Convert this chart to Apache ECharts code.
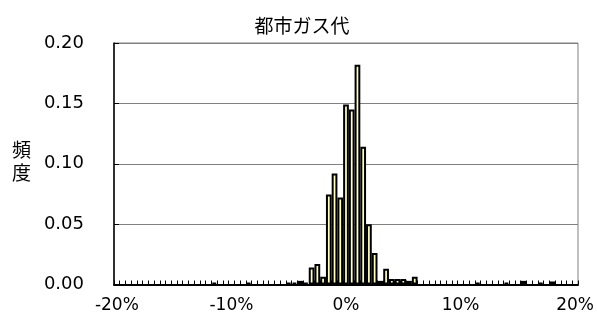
<!DOCTYPE html>
<html>
<head>
<meta charset="utf-8">
<script src="https://cdn.jsdelivr.net/npm/echarts@6/dist/echarts.min.js"></script>
<style>html,body{margin:0;padding:0;background:#fff;}#c{width:597px;height:325px;}</style>
</head>
<body>
<div id="c"></div>
<script>
const titleText = '都市ガス代';
const yAxisName = '頻度';
// bin values (%), step 0.5 from -20 to 20
const bins = [-20,-19.5,-19,-18.5,-18,-17.5,-17,-16.5,-16,-15.5,-15,-14.5,-14,-13.5,-13,-12.5,-12,-11.5,-11,-10.5,
  -10,-9.5,-9,-8.5,-8,-7.5,-7,-6.5,-6,-5.5,-5,-4.5,-4,-3.5,-3,-2.5,-2,-1.5,-1,-0.5,
  0,0.5,1,1.5,2,2.5,3,3.5,4,4.5,5,5.5,6,6.5,7,7.5,8,8.5,9,9.5,
  10,10.5,11,11.5,12,12.5,13,13.5,14,14.5,15,15.5,16,16.5,17,17.5,18,18.5,19,19.5,20];
const freq = [0,0,0,0,0,0,0,0,0,0,0,0,0,0,0,0,0,0.0015,0,0,
  0,0,0,0.0015,0,0,0,0,0,0,0.0015,0.0015,0.003,0.0015,0.014,0.017,0.0065,0.0745,0.092,0.072,
  0.149,0.145,0.182,0.114,0.050,0.026,0.003,0.013,0.0045,0.0045,0.0045,0.003,0.0065,0,0,0,0,0,0,0,
  0,0,0,0.0015,0,0,0,0,0.0015,0,0,0.003,0,0,0.0015,0,0.0025,0,0,0,0];
const yTicks = [0, 0.05, 0.10, 0.15, 0.20];

const chart = echarts.init(document.getElementById('c'), null, {renderer:'canvas'});
chart.setOption({
  animation: false,
  backgroundColor: '#ffffff',
  title: {
    text: titleText, left: 297, top: 11, textAlign: 'center',
    textStyle: {fontFamily: 'Noto Sans CJK JP', fontSize: 19, fontWeight: 'normal', color: '#000'}
  },
  graphic: [{
    type: 'text', left: 12, top: 138,
    style: {text: yAxisName.split('').join('\n'), font: '19px "Noto Sans CJK JP"', fill: '#000', lineHeight: 23}
  }],
  grid: {left: 114, right: 16, top: 43, bottom: 40.5, show: true, borderColor: '#808080', borderWidth: 1, backgroundColor: 'transparent'},
  xAxis: {
    type: 'category', data: bins.map(String), boundaryGap: true,
    axisLine: {show: true, lineStyle: {color: '#000', width: 2}},
    axisTick: {show: true, inside: true, length: 4, interval: 0, lineStyle: {color: '#000'}},
    axisLabel: {interval: 19, margin: 13, formatter: v => v + '%', fontFamily: 'DejaVu Sans', fontSize: 17, color: '#000'},
    splitLine: {show: false}
  },
  yAxis: {
    type: 'value', min: yTicks[0], max: yTicks[yTicks.length-1], interval: 0.05,
    axisLine: {show: true, lineStyle: {color: '#000', width: 1.5}},
    axisTick: {show: true, inside: true, length: 5, lineStyle: {color: '#000'}},
    axisLabel: {margin: 30, formatter: v => v.toFixed(2), fontFamily: 'DejaVu Sans', fontSize: 18, color: '#000'},
    splitLine: {show: true, lineStyle: {color: '#808080', width: 1}}
  },
  series: [{
    type: 'bar',
    data: freq.map(v => v === 0 ? '-' : v),
    barCategoryGap: '0%',
    itemStyle: {color: '#ffffc8', borderColor: '#000', borderWidth: 2}
  }]
});
</script>
</body>
</html>
